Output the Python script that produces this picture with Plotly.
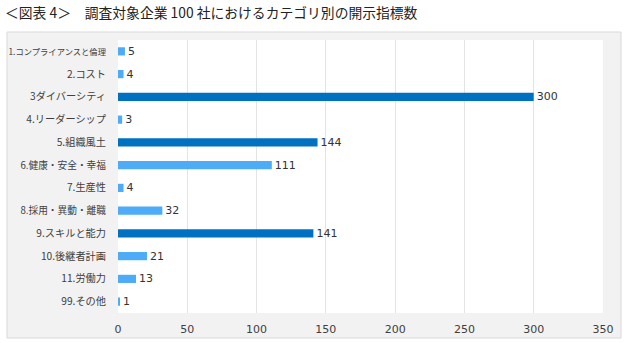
import plotly.graph_objects as go

categories = ["1.コンプライアンスと倫理", "2.コスト", "3ダイバーシティ", "4.リーダーシップ",
              "5.組織風土", "6.健康・安全・幸福", "7.生産性", "8.採用・異動・離職",
              "9.スキルと能力", "10.後継者計画", "11.労働力", "99.その他"]
values = [5, 4, 300, 3, 144, 111, 4, 32, 141, 21, 13, 1]
highlight = [False, False, True, False, True, False, False, False, True, False, False, False]
x_ticks = [0, 50, 100, 150, 200, 250, 300, 350]

DARK = "#0070C0"
LIGHT = "#4DABF7"
colors = [DARK if h else LIGHT for h in highlight]

W, H = 626, 343
L, R, T, B = 118, 23, 40, 30
pw, ph = W - L - R, H - T - B

def px_x(p):
    return (p - L) / pw

def px_y(p):
    return (H - B - p) / ph

def tick_label(c):
    size = 8.3 if len(c) > 11 else (9.7 if len(c) >= 10 else 10.2)
    return f'<span style="font-size:{size}px">{c}</span>'

fig = go.Figure(go.Bar(
    x=values, y=categories, orientation="h",
    marker=dict(color=colors, line=dict(width=0)),
    text=[str(v) for v in values], textposition="outside",
    constraintext="none",
    textfont=dict(size=11, color="#333333", family="DejaVu Sans"),
    cliponaxis=False, width=0.36,
))

fig.update_layout(
    width=W, height=H,
    margin=dict(l=L, r=R, t=T, b=B),
    paper_bgcolor="white", plot_bgcolor="white",
    showlegend=False,
    font=dict(family="Noto Sans CJK JP", size=11, color="#404040"),
    title=dict(text="＜図表 4＞　調査対象企業 100 社におけるカテゴリ別の開示指標数",
               x=0.008, xanchor="left", y=0.962, yanchor="middle",
               font=dict(size=13.8, color="#222222", family="Noto Sans CJK JP")),
    shapes=[
        dict(type="rect", xref="paper", yref="paper", layer="below",
             x0=px_x(7), x1=px_x(621), y0=px_y(338), y1=px_y(32),
             fillcolor="#F2F2F2", line=dict(color="#D9D9D9", width=1)),
        dict(type="rect", xref="paper", yref="paper", layer="below",
             x0=0, x1=1, y0=0, y1=1,
             fillcolor="white", line=dict(width=0)),
    ],
)
fig.update_xaxes(range=[0, 350], tickvals=x_ticks, showgrid=True, gridcolor="#E4E4E4",
                 gridwidth=1, zeroline=False, showline=False, automargin=False,
                 ticks="outside", ticklen=6, tickcolor="rgba(0,0,0,0)",
                 tickfont=dict(size=11, color="#404040", family="DejaVu Sans"))
fig.update_yaxes(autorange="reversed", showgrid=False, zeroline=False, showline=False,
                 automargin=False,
                 tickmode="array", tickvals=categories,
                 ticktext=[tick_label(c) for c in categories],
                 ticks="outside", ticklen=9, tickcolor="rgba(0,0,0,0)",
                 tickfont=dict(size=10.2, color="#404040"))

fig.write_html("out.html")
